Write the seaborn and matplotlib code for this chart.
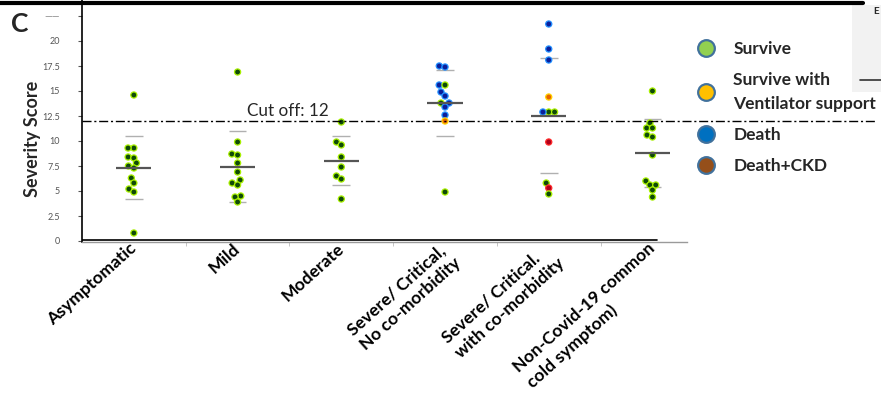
import numpy as np
import pandas as pd
import seaborn as sns
import matplotlib.pyplot as plt
from matplotlib.lines import Line2D
from matplotlib.patches import Rectangle
from matplotlib.colors import to_rgba
from matplotlib.transforms import ScaledTranslation

# ---------------- data ----------------
categories = [
    "Asymptomatic",
    "Mild",
    "Moderate",
    "Severe/ Critical,\nNo co-morbidity",
    "Severe/ Critical.\nwith co-morbidity",
    "Non-Covid-19 common\ncold symptom)",
]

asymptomatic = [14.6, 9.3, 9.3, 8.4, 8.3, 7.8, 7.5, 7.3, 6.3, 5.8, 5.2, 4.9, 0.8]
asymptomatic_status = ["Survive"] * 13

mild = [16.9, 9.9, 8.7, 8.6, 7.8, 6.9, 6.1, 5.8, 5.6, 4.5, 4.4, 3.9]
mild_status = ["Survive"] * 12

moderate = [11.9, 9.9, 9.6, 8.4, 7.4, 6.5, 6.2, 4.2]
moderate_status = ["Survive"] * 8

severe_nocomorb = [17.5, 17.4, 15.6, 15.6, 14.9, 14.5, 13.8, 13.8, 13.4, 12.6, 12.0, 4.9]
severe_nocomorb_status = ["Death", "Death", "Death", "Survive", "Death", "Death",
                          "Survive", "Death", "Death", "Death", "Ventilator", "Survive"]

severe_comorb = [21.7, 19.2, 18.1, 14.4, 12.9, 12.9, 12.9, 9.9, 5.8, 5.3, 4.7]
severe_comorb_status = ["Death", "Death", "Death", "Ventilator", "Survive", "Survive",
                        "Death", "Death+CKD", "Survive", "Death+CKD", "Survive"]

noncovid = [15.0, 11.8, 11.3, 11.3, 10.6, 10.4, 8.6, 6.0, 5.6, 5.6, 5.1, 4.4]
noncovid_status = ["Survive"] * 12

status_order = ["Survive", "Ventilator", "Death", "Death+CKD"]
legend_labels = ["Survive", "Survive with\nVentilator support", "Death", "Death+CKD"]

CUTOFF = 12
ytick_values = [0, 2.5, 5, 7.5, 10, 12.5, 15, 17.5, 20, 22.5]
ytick_labels = ["0", "2.5", "5", "7.5", "10", "12.5", "15", "17.5", "20", "——"]

# ---------------- styles ----------------
point_face = {"Survive": "#0f4a08", "Ventilator": "#e86400",
              "Death": "#0b1f9a", "Death+CKD": "#b0001a"}
point_edge = {"Survive": "#a8f000", "Ventilator": "#ffd200",
              "Death": "#2290ff", "Death+CKD": "#ff2a2a"}
legend_face = {"Survive": "#92d050", "Ventilator": "#ffc000",
               "Death": "#0070c0", "Death+CKD": "#954f1a"}

groups = [asymptomatic, mild, moderate, severe_nocomorb, severe_comorb, noncovid]
statuses = [asymptomatic_status, mild_status, moderate_status,
            severe_nocomorb_status, severe_comorb_status, noncovid_status]
df = pd.concat([
    pd.DataFrame({"group": cat, "score": vals, "status": st})
    for cat, vals, st in zip(categories, groups, statuses)
], ignore_index=True)

sns.set_style("white")
plt.rcParams["font.family"] = ["Lato", "DejaVu Sans"]

W, H = 881, 397
fig = plt.figure(figsize=(W / 100, H / 100), dpi=100)
ax = fig.add_axes([82 / W, 1 - 242 / H, (687 - 82) / W, 242 / H])

ax.set_xlim(-0.5, 5.333)
ax.set_ylim(-0.1, 24.1)

# swarm laid out with a compact marker size (points may touch/overlap like the original)
LAYOUT_SIZE = 4.0
DRAW_SIZE = 4.4
sns.swarmplot(data=df, x="group", y="score", hue="status", order=categories,
              hue_order=status_order, palette=point_face, size=LAYOUT_SIZE,
              linewidth=0, legend=False, ax=ax, zorder=3)
swarm_colls = list(ax.collections)
ax.set_xlim(-0.5, 5.333)
ax.set_ylim(-0.1, 24.1)
fig.canvas.draw()
face_to_edge = [(np.array(to_rgba(point_face[s])), to_rgba(point_edge[s])) for s in status_order]
for coll in swarm_colls:
    if "draw" in coll.__dict__:
        del coll.draw
    coll.set_sizes([DRAW_SIZE ** 2])
    coll.set_linewidth(0.9)
    ecs = []
    for fc in coll.get_facecolors():
        e = "white"
        for f, ec in face_to_edge:
            if np.allclose(fc, f, atol=1e-3):
                e = ec
        ecs.append(e)
    coll.set_edgecolors(ecs)

# mean and SD markers (computed from the data)
stats = df.groupby("group", sort=False)["score"].agg(["mean", "std"]).reindex(categories)
pos = np.arange(len(categories))
ax.hlines(stats["mean"], pos - 0.17, pos + 0.17, color="#555555", lw=1.6, zorder=4)
ax.hlines(stats["mean"] + stats["std"], pos - 0.085, pos + 0.085, color="#b0b0b0", lw=1.0, zorder=2)
ax.hlines(stats["mean"] - stats["std"], pos - 0.085, pos + 0.085, color="#b0b0b0", lw=1.0, zorder=2)

# cut-off line (extends past the axes towards the legend)
ax.plot([-0.5, 7.16], [CUTOFF, CUTOFF], color="black", lw=1.0,
        ls=(0, (6.5, 2, 1.5, 2)), clip_on=False, zorder=5)
ax.text(1.09, CUTOFF + 0.55, "Cut off: 12", fontsize=12.3, ha="left", va="baseline")

# axes styling
for s in ["top", "right"]:
    ax.spines[s].set_visible(False)
ax.spines["left"].set_color("black")
ax.spines["left"].set_linewidth(1.2)
ax.spines["bottom"].set_color("#9a9a9a")
ax.spines["bottom"].set_linewidth(1.0)
ax.axhline(0.1, xmin=0, xmax=(657 - 82) / (687 - 82), color="black", lw=1.2, zorder=1)

ax.set_yticks(ytick_values)
ax.set_yticklabels(ytick_labels)
ax.tick_params(axis="y", colors="#555555", labelsize=6.5, length=3, width=0.8,
               direction="out", left=True, pad=13)
ax.get_yticklabels()[-1].set_fontsize(7)
ax.get_yticklabels()[-1].set_color("#888888")

ax.set_xticks(pos)
ax.tick_params(axis="x", length=0, pad=1)
ax.set_xticklabels(categories, rotation=42, ha="right", va="top",
                   rotation_mode="anchor", fontweight="bold", fontsize=12.6,
                   multialignment="left", color="black", linespacing=1.3)
shift = ScaledTranslation(-5 / 100, 3 / 100, fig.dpi_scale_trans)
for lab in ax.get_xticklabels():
    lab.set_transform(lab.get_transform() + shift)
ax.set_xticks(pos[:-1] + 0.5, minor=True)
ax.tick_params(axis="x", which="minor", length=3, color="#bbbbbb", bottom=True)

ax.set_xlabel("")
ax.set_ylabel("Severity Score", fontsize=13, fontweight="bold")
ax.yaxis.set_label_coords((41 - 82) / (687 - 82), (242 - 138.5) / 242)

# legend
handles = [Line2D([], [], marker="o", linestyle="", markersize=12,
                  markerfacecolor=legend_face[s], markeredgecolor="#41719c",
                  markeredgewidth=1.6) for s in status_order]
leg = fig.legend(handles, legend_labels, loc="upper left",
                 bbox_to_anchor=(682 / W, 1 - 34 / H), frameon=False,
                 prop={"weight": "bold", "size": 12.5}, labelspacing=0.85,
                 handletextpad=0.55, borderaxespad=0)
for t in leg.get_texts():
    t.set_linespacing(1.65)

# panel decorations
fig.text(11 / W, 1 - 32 / H, "C", fontsize=19, fontweight="bold", ha="left", va="baseline")
fig.add_artist(Line2D([0, 863 / W], [1 - 3 / H, 1 - 3 / H], color="black", lw=3,
                      transform=fig.transFigure))
fig.add_artist(Rectangle((852 / W, 1 - 92 / H), 29 / W, 87 / H, transform=fig.transFigure,
                         facecolor="#f2f2f2", edgecolor="none", zorder=0))
fig.add_artist(Line2D([860 / W, 1], [1 - 80 / H, 1 - 80 / H], color="#333333", lw=1.2,
                      transform=fig.transFigure))
fig.text(873 / W, 1 - 14 / H, "E", fontsize=7, fontweight="bold", ha="left", va="baseline")

fig.savefig("out.png", dpi=100)
